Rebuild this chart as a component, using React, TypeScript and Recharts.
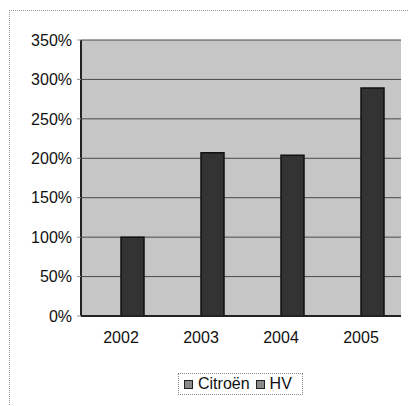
import { Bar, BarChart, CartesianGrid, Legend, XAxis, YAxis } from "recharts";

const years = ["2002", "2003", "2004", "2005"];
const citroen = [0, 0, 0, 0];
const hv = [100, 207, 204, 289];
const yTicks = [0, 50, 100, 150, 200, 250, 300, 350];

const data = years.map((year, i) => ({ year, citroen: citroen[i], hv: hv[i] }));

const font = "'Liberation Sans', Arial, sans-serif";

function LegendBox() {
  const item = (label: string) => (
    <span style={{ display: "inline-flex", alignItems: "center", marginRight: 6 }}>
      <span
        style={{
          display: "inline-block",
          width: 7,
          height: 7,
          background: "#8a8a8a",
          border: "1px solid #222",
          marginRight: 5,
        }}
      />
      {label}
    </span>
  );
  return (
    <div
      style={{
        border: "1px dotted #888",
        width: 125,
        height: 22,
        boxSizing: "border-box",
        display: "flex",
        alignItems: "center",
        paddingLeft: 5,
        fontFamily: font,
        fontSize: 16,
        color: "#111",
        background: "#fff",
      }}
    >
      {item("Citroën")}
      {item("HV")}
    </div>
  );
}

export default function App() {
  return (
    <div style={{ position: "absolute", left: 0, top: 0, width: 409, height: 406, background: "#fff" }}>
      <div
        style={{
          position: "absolute",
          left: 9,
          top: 10,
          width: 400,
          height: 396,
          borderLeft: "1px dotted #999",
          borderTop: "1px dotted #999",
        }}
      />
      <BarChart
        width={409}
        height={406}
        data={data}
        margin={{ top: 40, right: 8, bottom: 0, left: 0 }}
        barCategoryGap={17}
        barGap={0}
      >
        <CartesianGrid
          vertical={false}
          stroke="#4a4a4a"
          strokeWidth={1}
          fill="#c6c6c6"
          fillOpacity={1}
        />
        <XAxis
          dataKey="year"
          height={68}
          interval={0}
          tickLine={false}
          axisLine={{ stroke: "#222", strokeWidth: 2 }}
          tick={{ fill: "#111", fontSize: 16, fontFamily: font, dy: 8 }}
        />
        <YAxis
          width={81}
          domain={[0, 350]}
          ticks={yTicks}
          interval={0}
          tickFormatter={(v: number) => `${v}%`}
          tickLine={{ stroke: "#999" }}
          tickSize={4}
          axisLine={{ stroke: "#222", strokeWidth: 2 }}
          tick={{ fill: "#111", fontSize: 16, fontFamily: font, dx: -3 }}
        />
        <Legend
          content={() => <LegendBox />}
          wrapperStyle={{ position: "absolute", left: 178, top: 373, width: 125, height: 22 }}
        />
        <Bar dataKey="citroen" name="Citroën" fill="#8a8a8a" stroke="#111" isAnimationActive={false} />
        <Bar dataKey="hv" name="HV" fill="#333333" stroke="#111" strokeWidth={1.5} isAnimationActive={false} />
      </BarChart>
    </div>
  );
}
